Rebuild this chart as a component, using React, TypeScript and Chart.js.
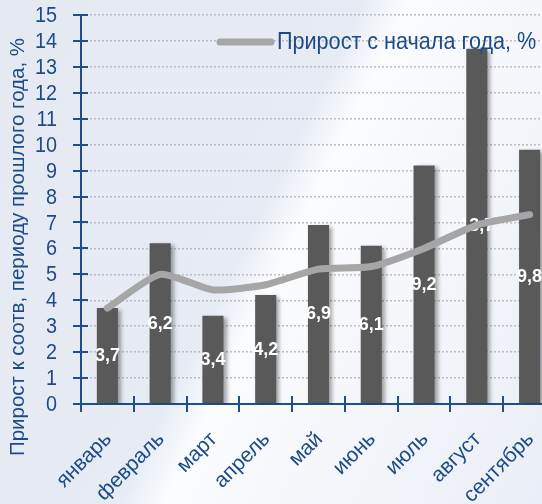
import React, { useEffect, useRef } from "react";
import { Chart, registerables } from "chart.js";

Chart.register(...registerables);

const categories = ["январь", "февраль", "март", "апрель", "май", "июнь", "июль", "август", "сентябрь"];
const yoyValues = [3.7, 6.2, 3.4, 4.2, 6.9, 6.1, 9.2, 13.7, 9.8];
const ytdValues = [3.7, 5.0, 4.4, 4.6, 5.2, 5.3, 6.0, 6.9, 7.3];
const yoyLabel = "Прирост к соотв, периоду прошлого года, %";
const ytdLabel = "Прирост с начала года, %";
const yMin = 0;
const yMax = 15;
const yStep = 1;

const FONT = "'Liberation Sans', Arial, sans-serif";
const NARROW = "'Liberation Sans Narrow', 'Arial Narrow', 'Liberation Sans', Arial, sans-serif";
const BLUE = "#1d4b88";
const AXIS = "#1f4e8c";
const BAR = "#595959";
const LINE = "#a6a6a6";

const fmt = (v: number) => String(v).replace(".", ",");

export default function App() {
  const ref = useRef<HTMLCanvasElement | null>(null);

  useEffect(() => {
    if (!ref.current) return;

    const decor = {
      id: "decor",
      beforeDatasetDraw(chart: any, args: any) {
        if (args.index === 0) {
          const ctx = chart.ctx;
          ctx.save();
          ctx.shadowColor = "rgba(0,0,0,0.35)";
          ctx.shadowBlur = 4;
          ctx.shadowOffsetX = 3;
          ctx.shadowOffsetY = 2;
        }
      },
      afterDatasetDraw(chart: any, args: any) {
        if (args.index === 0) {
          const ctx = chart.ctx;
          ctx.restore();
          const meta = chart.getDatasetMeta(0);
          const ys = chart.scales.y;
          ctx.save();
          ctx.fillStyle = "#ffffff";
          ctx.font = "bold 18px " + NARROW;
          ctx.textAlign = "center";
          ctx.textBaseline = "middle";
          meta.data.forEach((el: any, i: number) => {
            const v = yoyValues[i];
            ctx.fillText(fmt(v), el.x, ys.getPixelForValue(v / 2));
          });
          ctx.restore();
        }
      },
      afterDraw(chart: any) {
        const ctx = chart.ctx;
        const { x, y } = chart.scales;
        const area = chart.chartArea;
        ctx.save();
        ctx.strokeStyle = AXIS;
        ctx.lineWidth = 2;
        // y cross ticks
        for (let v = yMin; v <= yMax; v += yStep) {
          const py = Math.round(y.getPixelForValue(v));
          ctx.beginPath();
          ctx.moveTo(area.left - 8, py);
          ctx.lineTo(area.left + 7, py);
          ctx.stroke();
        }
        // x cross ticks at category boundaries
        const w = (area.right - area.left) / categories.length;
        for (let i = 0; i <= categories.length; i++) {
          const px = Math.round(area.left + i * w);
          ctx.beginPath();
          ctx.moveTo(px, area.bottom - 8);
          ctx.lineTo(px, area.bottom + 8);
          ctx.stroke();
        }
        ctx.restore();

        // y tick labels (slightly condensed)
        ctx.save();
        ctx.fillStyle = BLUE;
        ctx.font = "22px " + FONT;
        ctx.textAlign = "right";
        ctx.textBaseline = "middle";
        for (let v = yMin; v <= yMax; v += yStep) {
          ctx.save();
          ctx.translate(area.left - 24, y.getPixelForValue(v) + 1);
          ctx.scale(0.9, 1);
          ctx.fillText(String(v), 0, 0);
          ctx.restore();
        }
        ctx.restore();

        // x category labels, rotated 45°
        ctx.save();
        ctx.fillStyle = BLUE;
        ctx.font = "21px " + FONT;
        ctx.textAlign = "right";
        ctx.textBaseline = "middle";
        categories.forEach((c, i) => {
          ctx.save();
          ctx.translate(x.getPixelForValue(i) + 1, area.bottom + 32);
          ctx.rotate(-Math.PI / 4);
          ctx.fillText(c, 0, 0);
          ctx.restore();
        });
        ctx.restore();

        // y axis title
        ctx.save();
        ctx.translate(18, 247);
        ctx.rotate(-Math.PI / 2);
        ctx.fillStyle = BLUE;
        ctx.font = "20.5px " + FONT;
        ctx.textAlign = "center";
        ctx.textBaseline = "middle";
        ctx.fillText(yoyLabel, 0, 0);
        ctx.restore();

        // legend
        ctx.save();
        ctx.strokeStyle = LINE;
        ctx.lineWidth = 7;
        ctx.lineCap = "round";
        ctx.beginPath();
        ctx.moveTo(220, 42);
        ctx.lineTo(271, 42);
        ctx.stroke();
        ctx.fillStyle = BLUE;
        ctx.font = "24px " + FONT;
        ctx.textAlign = "left";
        ctx.textBaseline = "middle";
        ctx.translate(277, 42);
        ctx.scale(0.9, 1);
        ctx.fillText(ytdLabel, 0, 0);
        ctx.restore();
      },
    };

    const chart = new Chart(ref.current, {
      type: "bar",
      data: {
        labels: categories,
        datasets: [
          {
            type: "bar",
            label: yoyLabel,
            data: yoyValues,
            backgroundColor: BAR,
            barPercentage: 0.4,
            categoryPercentage: 1,
            order: 1,
          },
          {
            type: "line",
            label: ytdLabel,
            data: ytdValues,
            borderColor: LINE,
            borderWidth: 7,
            borderCapStyle: "round",
            borderJoinStyle: "round",
            pointRadius: 0,
            tension: 0.2,
            order: 0,
          } as any,
        ],
      },
      options: {
        animation: false,
        responsive: false,
        maintainAspectRatio: false,
        layout: { padding: { top: 15, right: 4, left: 0, bottom: 0 } },
        plugins: {
          legend: { display: false },
          tooltip: { enabled: false },
          title: { display: false },
        },
        scales: {
          x: {
            grid: { display: false, drawTicks: false },
            border: { display: true, color: AXIS, width: 2 },
            ticks: { display: false },
            afterFit(scale: any) {
              scale.height = 100;
            },
          },
          y: {
            min: yMin,
            max: yMax,
            grid: { color: "#bdbdbd", lineWidth: 1.5, drawTicks: false },
            border: { display: true, color: AXIS, width: 2, dash: [2, 2] },
            ticks: { stepSize: yStep, autoSkip: false, display: false },
            afterFit(scale: any) {
              scale.width = 81;
            },
          },
        },
      },
      plugins: [decor],
    });

    return () => chart.destroy();
  }, []);

  return (
    <div
      style={{
        position: "absolute",
        left: 0,
        top: 0,
        width: 542,
        height: 504,
        overflow: "hidden",
        background:
          "linear-gradient(116deg, #e4e9f2 0%, #e6ebf4 46%, #fbfcfe 52%, #f6f8fb 64%, #eaeef6 100%)",
      }}
    >
      <canvas ref={ref} width={560} height={504} style={{ display: "block", width: 560, height: 504 }} />
    </div>
  );
}
